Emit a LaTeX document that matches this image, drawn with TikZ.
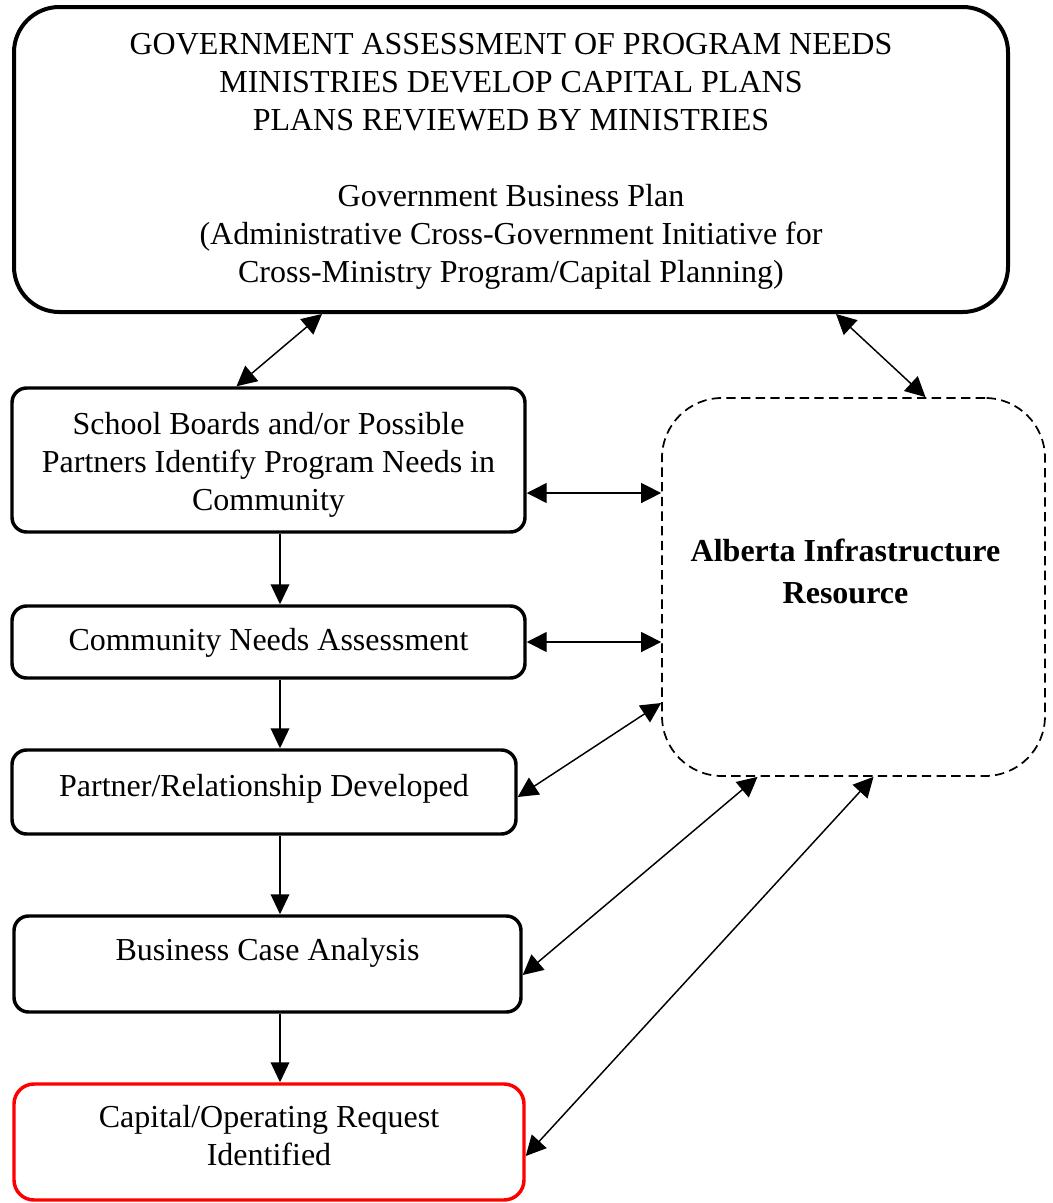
\documentclass[tikz,border=0pt]{standalone}
\usepackage{fontspec}
\setmainfont{Liberation Serif}
\usetikzlibrary{positioning,calc,arrows.meta}

\tikzset{
  px/.style 2 args={minimum width=#1*0.75pt, minimum height=#2*0.75pt},
  stage/.style={draw, line width=2.6pt, rounded corners=11pt, inner sep=0pt},
  caption/.style={align=center, inner sep=0pt, font=\fontsize{24}{28.5}\selectfont},
  link/.style={line width=1.1pt, {Triangle[length=15pt,width=15pt]}-{Triangle[length=15pt,width=15pt]}},
  flow/.style={line width=1.1pt, -{Triangle[length=15pt,width=14pt]}},
}

\begin{document}
\begin{tikzpicture}[x=0.75pt,y=-0.75pt]
    \useasboundingbox (0,0) rectangle (1053,1203);
    %% Government level
    \node[stage, px={994}{305}, line width=3pt, rounded corners=34pt] (plan) at (511,159.5) {};
    \node[caption, below=21pt of plan.north] (plantext) {GOVERNMENT ASSESSMENT OF PROGRAM NEEDS\\
        MINISTRIES DEVELOP CAPITAL PLANS\\
        PLANS REVIEWED BY MINISTRIES\\[28.5pt]
        Government Business Plan\\
        (Administrative Cross-Government Initiative for\\
        Cross-Ministry Program/Capital Planning)};
    %% Steps
    \node[stage, px={513}{144}] (sb) at (268.5,460) {};
    \node[caption, below=19pt of sb.north] (sbtext) {School Boards and/or Possible\\
        Partners Identify Program Needs in\\
        Community};
    \node[stage, px={513}{72}] (cna) at (268.5,642) {};
    \node[caption, below=18pt of cna.north] (cnatext) {Community Needs Assessment};
    \node[stage, px={504}{84}] (prd) at (264,792) {};
    \node[caption, below=19pt of prd.north] (prdtext) {Partner/Relationship Developed};
    \node[stage, px={507}{96}] (bca) at (267.5,964) {};
    \node[caption, below=18pt of bca.north] (bcatext) {Business Case Analysis};
    \node[stage, px={510}{116}, draw=red, rounded corners=15pt] (cor) at (269,1142) {};
    \node[caption, below=17pt of cor.north] (cortext) {Capital/Operating Request\\
        Identified};
    %% Resource
    \node[stage, px={383}{378}, line width=1.3pt, dash pattern=on 7pt off 4pt, rounded corners=45pt] (air) at (853.5,587) {};
    \node[caption, font=\fontsize{24}{31.5}\selectfont\bfseries] (airtext) at ($(air)+(-8,-16)$) {Alberta Infrastructure\\
        Resource};
    %% Links
    \draw[link] ($(plan.south)+(-189,0)$) -- ($(sb.north)+(-32,0)$);
    \draw[link] ($(plan.south)+(325,0)$) -- ($(air.north)+(72,0)$);
    \draw[link] ($(sb.east)+(0,33)$) coordinate (sbr) -- (sbr -| air.west);
    \draw[link] (cna.east) -- (cna.east -| air.west);
    \draw[link] ($(prd.east)+(0,5)$) -- ($(air.west)+(0,116)$);
    \draw[link] ($(bca.east)+(0,11)$) -- ($(air.south)+(-96,0)$);
    \draw[link] ($(cor.east)+(0,14)$) -- ($(air.south)+(20,0)$);
    %% Flow
    \coordinate (fx) at (280,0);
    \foreach \a/\b in {sb/cna, cna/prd, prd/bca, bca/cor}
        \draw[flow] (\a.south -| fx) -- (\b.north -| fx);
\end{tikzpicture}
\end{document}
